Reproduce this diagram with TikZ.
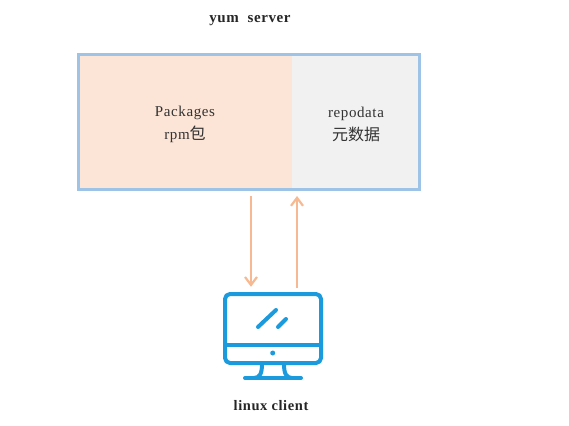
\documentclass[tikz,border=0pt]{standalone}
\usepackage{fontspec}
\usepackage{xcolor}
\setmainfont{Liberation Serif}
\newfontfamily\cjkfont{Noto Sans CJK SC}
\usetikzlibrary{arrows.meta}
\definecolor{Srvline}{RGB}{157,195,230}
\definecolor{Pkgfill}{RGB}{252,228,214}
\definecolor{Repofill}{RGB}{241,241,241}
\definecolor{Flow}{RGB}{246,185,145}
\definecolor{Screen}{RGB}{27,155,222}
\definecolor{Txt}{RGB}{50,50,50}
\tikzset{
    partbox/.style={draw=none, minimum height=135, inner sep=0pt},
    parttext/.style={inner sep=0pt, align=center, text=Txt,
                    font=\fontsize{15}{23}\selectfont\addfontfeatures{LetterSpace=4}},
    flowline/.style={draw=Flow, line width=2, -{Straight Barb[length=8,width=12,line width=2.2]}},
    screenline/.style={draw=Screen, line width=4, line cap=round, line join=round},
    caption/.style={inner sep=0pt, text=black!85, font=\fontsize{14.5}{16}\selectfont\bfseries\addfontfeatures{LetterSpace=4}}
}

\begin{document}
\begin{tikzpicture}[x=1pt, y=-1pt]
    \useasboundingbox (0,0) rectangle (569,425);
    \node [caption, font=\fontsize{15}{16}\selectfont\bfseries\addfontfeatures{LetterSpace=4}] (server) at (250,21) {yum\ \ server};
    \node [partbox, fill=Pkgfill, minimum width=214] (packages) at (185,122) {};
    \node [partbox, fill=Repofill, minimum width=128] (repodata) at (356,122) {};
    \node [parttext] (packagestext) at (185,124) {Packages\\ rpm{\cjkfont\fontsize{16}{23}\selectfont 包}};
    \node [parttext] (repodatatext) at (356,124) {repodata\\ {\cjkfont\fontsize{16}{23}\selectfont 元数据}};
    \node [draw=Srvline, line width=2.6, minimum width=341, minimum height=135,
           inner sep=0pt] (frame) at (249,122) {};

    % monitor
    \draw [screenline, rounded corners=5] (225,294) rectangle (321,363);
    \draw [screenline] (225,344.5) -- (321,344.5);
    \draw [screenline] (258,327) -- (276,310);
    \draw [screenline] (278,327) -- (286,319);
    \fill [Screen] (272.7,353) circle (2.5);
    \draw [screenline] (262,364) .. controls (262,373) and (260,378) .. (254,378);
    \draw [screenline] (284,364) .. controls (284,373) and (286,378) .. (292,378);
    \draw [screenline] (245,378) -- (301,378);
    \node [inner sep=0pt, minimum width=100, minimum height=88] (client) at (273,335) {};
    \node [caption] (clientname) at (271,406) {linux client};

    % arrows
    \coordinate (downstart) at (251,196);
    \coordinate (upend) at (297,196);
    \draw [flowline] (downstart) -- ([yshift=4]downstart |- client.north);
    \draw [flowline] ([yshift=3]upend |- client.north) -- (upend);
\end{tikzpicture}
\end{document}
